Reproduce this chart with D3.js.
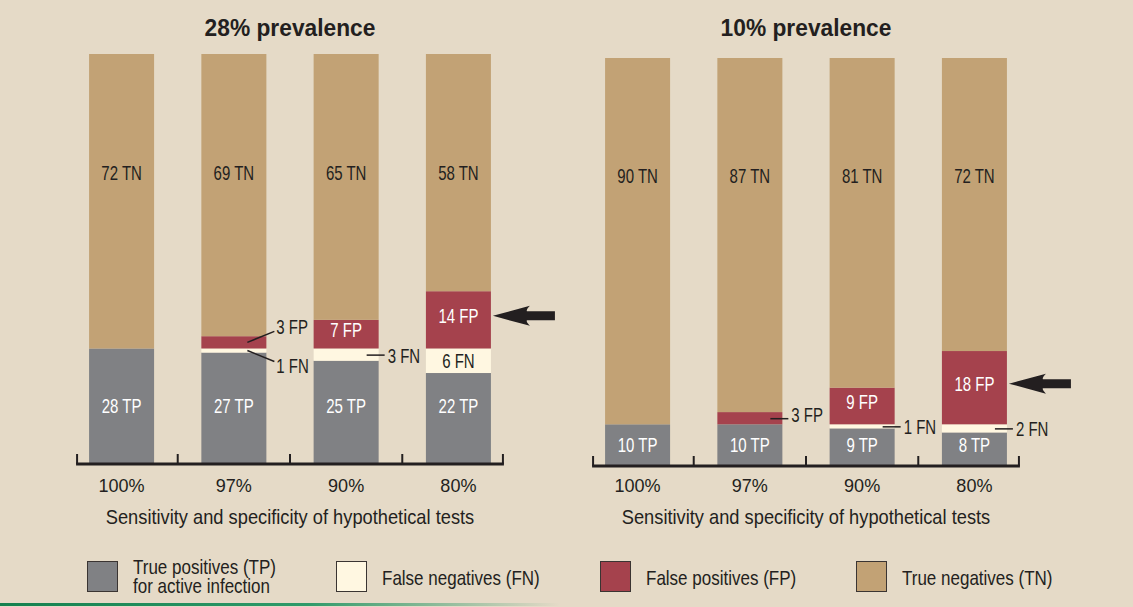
<!DOCTYPE html>
<html>
<head>
<meta charset="utf-8">
<script src="https://cdn.jsdelivr.net/npm/d3@7"></script>
<style>
  html, body { margin: 0; padding: 0; background: #e5dac7; }
  svg { display: block; }
  .narrow { font-family: "Liberation Sans", Arial, sans-serif; }
</style>
</head>
<body>
<div id="chart"></div>
<script>
// categories (sensitivity / specificity of test)
const categories = ["100%", "97%", "90%", "80%"];
const panelTitles = ["28% prevalence", "10% prevalence"];
const axisTitle = "Sensitivity and specificity of hypothetical tests";

// 28% prevalence
const tp28 = [28, 27, 25, 22];
const fn28 = [0, 1, 3, 6];
const fp28 = [0, 3, 7, 14];
const tn28 = [72, 69, 65, 58];

// 10% prevalence
const tp10 = [10, 10, 9, 8];
const fn10 = [0, 0, 1, 2];
const fp10 = [0, 3, 9, 18];
const tn10 = [90, 87, 81, 72];

const seriesKeys = ["TP", "FN", "FP", "TN"];
const legendLabels = [["True positives (TP)", "for active infection"], ["False negatives (FN)"], ["False positives (FP)"], ["True negatives (TN)"]];

const colors = { TP: "#808184", FN: "#fff7e1", FP: "#a5424d", TN: "#c2a275" };
const textColors = { TP: "#ffffff", FN: "#231f20", FP: "#ffffff", TN: "#231f20" };
const dark = "#231f20";

const width = 1133, height = 607;

const svg = d3.select("#chart").append("svg")
  .attr("width", width)
  .attr("height", height);

svg.append("rect")
  .attr("width", width)
  .attr("height", height)
  .attr("fill", "#e5dac7");

// no condensed font installed, so squeeze a regular one horizontally
function narrowText(parent, x, y, str, size, squeeze, color, anchor) {
  return parent.append("text")
    .attr("class", "narrow")
    .attr("transform", `translate(${x},${y}) scale(${squeeze},1)`)
    .attr("text-anchor", anchor || "start")
    .attr("font-size", size)
    .attr("fill", color)
    .text(str);
}

// panel layout
const panels = [
  { title: panelTitles[0], data: [tp28, fn28, fp28, tn28], x0: 65.5, base: 463, top: 54 },
  { title: panelTitles[1], data: [tp10, fn10, fp10, tn10], x0: 581.5, base: 465, top: 58 }
];

panels.forEach(function (p) {
  let x = d3.scaleBand()
    .domain(categories)
    .range([p.x0, p.x0 + 449])
    .paddingInner(0.421)
    .paddingOuter(0.21);

  let y = d3.scaleLinear()
    .domain([0, 100])
    .range([p.base, p.top]);

  let bw = x.bandwidth();
  let gap = x.step() - bw;

  let rows = categories.map(function (c, i) {
    let row = { cat: c };
    seriesKeys.forEach(function (k, j) { row[k] = p.data[j][i]; });
    return row;
  });

  let stacked = d3.stack().keys(seriesKeys)(rows);

  let g = svg.append("g");

  // title
  narrowText(g, x.range()[0] + 449 / 2, 36, p.title, 24.5, 0.93, dark, "middle")
    .attr("font-weight", "bold");

  // stacked bars
  let layer = g.selectAll(".layer")
    .data(stacked)
    .enter()
    .append("g")
    .attr("class", "layer")
    .attr("fill", function (d) { return colors[d.key]; });

  layer.selectAll("rect")
    .data(function (d) { return d; })
    .enter()
    .append("rect")
    .attr("x", function (d) { return x(d.data.cat); })
    .attr("y", function (d) { return y(d[1]); })
    .attr("width", bw)
    .attr("height", function (d) { return y(d[0]) - y(d[1]); });

  // labels inside / outside bars
  stacked.forEach(function (s) {
    s.forEach(function (d) {
      let v = d.data[s.key];
      if (v === 0) return;
      let label = v + " " + s.key;
      let h = y(d[0]) - y(d[1]);
      let mid = (y(d[0]) + y(d[1])) / 2;
      let right = x(d.data.cat) + bw;
      let cx = x(d.data.cat) + bw / 2;

      if (h >= 20) {
        let ty = mid;
        if (s.key === "TN") ty = y(71);
        if (s.key === "TP") ty = y(p.data[0][0] / 2);
        if (s.key === "FP") ty = mid - 4;
        narrowText(g, cx, ty + 7, label, 20, 0.75, textColors[s.key], "middle");
        return;
      }

      // small segment: callout
      let row = d.data;
      let bothSmall = row.FN > 0 && row.FP > 0 && (y(0) - y(row.FN)) < 20 && (y(0) - y(row.FP)) < 20;
      if (bothSmall) {
        let dir = s.key === "FP" ? -1 : 1;
        g.append("line")
          .attr("x1", right - 19).attr("y1", mid)
          .attr("x2", right + 8).attr("y2", mid + dir * 11)
          .attr("stroke", dark)
          .attr("stroke-width", 1.5);
        narrowText(g, right + 10, mid + dir * 15 + 7, label, 20, 0.75, dark);
      } else {
        g.append("line")
          .attr("x1", right - 12).attr("y1", mid + 0.5)
          .attr("x2", right + 6).attr("y2", mid + 0.5)
          .attr("stroke", dark)
          .attr("stroke-width", 1.5);
        narrowText(g, right + 9, (s.key === "FP" ? mid - 3 : mid + 1) + 7, label, 20, 0.75, dark);
      }
    });
  });

  // arrow pointing at the largest false-positive segment
  let last = stacked[2][categories.length - 1];
  let ay = (y(last[0]) + y(last[1])) / 2 - 4;
  let ax = x(categories[categories.length - 1]) + bw + 2;
  g.append("path")
    .attr("d", `M${ax},${ay} L${ax + 37},${ay - 10} Q${ax + 33},${ay - 6} ${ax + 34},${ay - 4.5} L${ax + 62},${ay - 4.5} L${ax + 62},${ay + 4.5} L${ax + 34},${ay + 4.5} Q${ax + 33},${ay + 6} ${ax + 37},${ay + 10} Z`)
    .attr("fill", dark);

  // bracket axis
  let first = x(categories[0]);
  let lastRight = x(categories[categories.length - 1]) + bw;
  let ticks = [first - 12];
  categories.slice(0, -1).forEach(function (c) { ticks.push(x(c) + bw + gap / 2); });
  ticks.push(lastRight + 12);

  g.append("line")
    .attr("x1", ticks[0] - 1)
    .attr("x2", ticks[ticks.length - 1] + 1)
    .attr("y1", p.base + 1)
    .attr("y2", p.base + 1)
    .attr("stroke", dark)
    .attr("stroke-width", 3);

  g.selectAll(".tick")
    .data(ticks)
    .enter()
    .append("line")
    .attr("class", "tick")
    .attr("x1", function (d) { return d; })
    .attr("x2", function (d) { return d; })
    .attr("y1", p.base + 1)
    .attr("y2", p.base - 9)
    .attr("stroke", dark)
    .attr("stroke-width", 2);

  categories.forEach(function (c) {
    narrowText(g, x(c) + bw / 2, 492, c, 19, 0.95, dark, "middle");
  });

  narrowText(g, (ticks[0] + ticks[ticks.length - 1]) / 2, 524, axisTitle, 21, 0.87, dark, "middle");
});

// legend
const legendX = [87, 336, 600, 856];
let legend = svg.selectAll(".legend")
  .data(seriesKeys)
  .enter()
  .append("g")
  .attr("class", "legend")
  .attr("transform", function (d, i) { return `translate(${legendX[i]}, 561)`; });

legend.append("rect")
  .attr("x", 0.5)
  .attr("y", 0.5)
  .attr("width", 30)
  .attr("height", 30)
  .attr("fill", function (d) { return colors[d]; })
  .attr("stroke", "#3a3432")
  .attr("stroke-width", 1);

legend.each(function (d, i) {
  let lines = legendLabels[i];
  let sel = d3.select(this);
  lines.forEach(function (line, j) {
    narrowText(sel, 46, lines.length === 1 ? 24 : 13 + j * 19, line, 21, 0.81, dark);
  });
});

// green rule at the bottom
let grad = svg.append("defs").append("linearGradient")
  .attr("id", "greenFade")
  .attr("x1", "0%").attr("x2", "100%");
grad.append("stop").attr("offset", "0%").attr("stop-color", "#14804f");
grad.append("stop").attr("offset", "55%").attr("stop-color", "#2f9a6a");
grad.append("stop").attr("offset", "100%").attr("stop-color", "#e5dac7");

svg.append("rect")
  .attr("x", 0)
  .attr("y", 603)
  .attr("width", 560)
  .attr("height", 3)
  .attr("fill", "url(#greenFade)");
</script>
</body>
</html>
